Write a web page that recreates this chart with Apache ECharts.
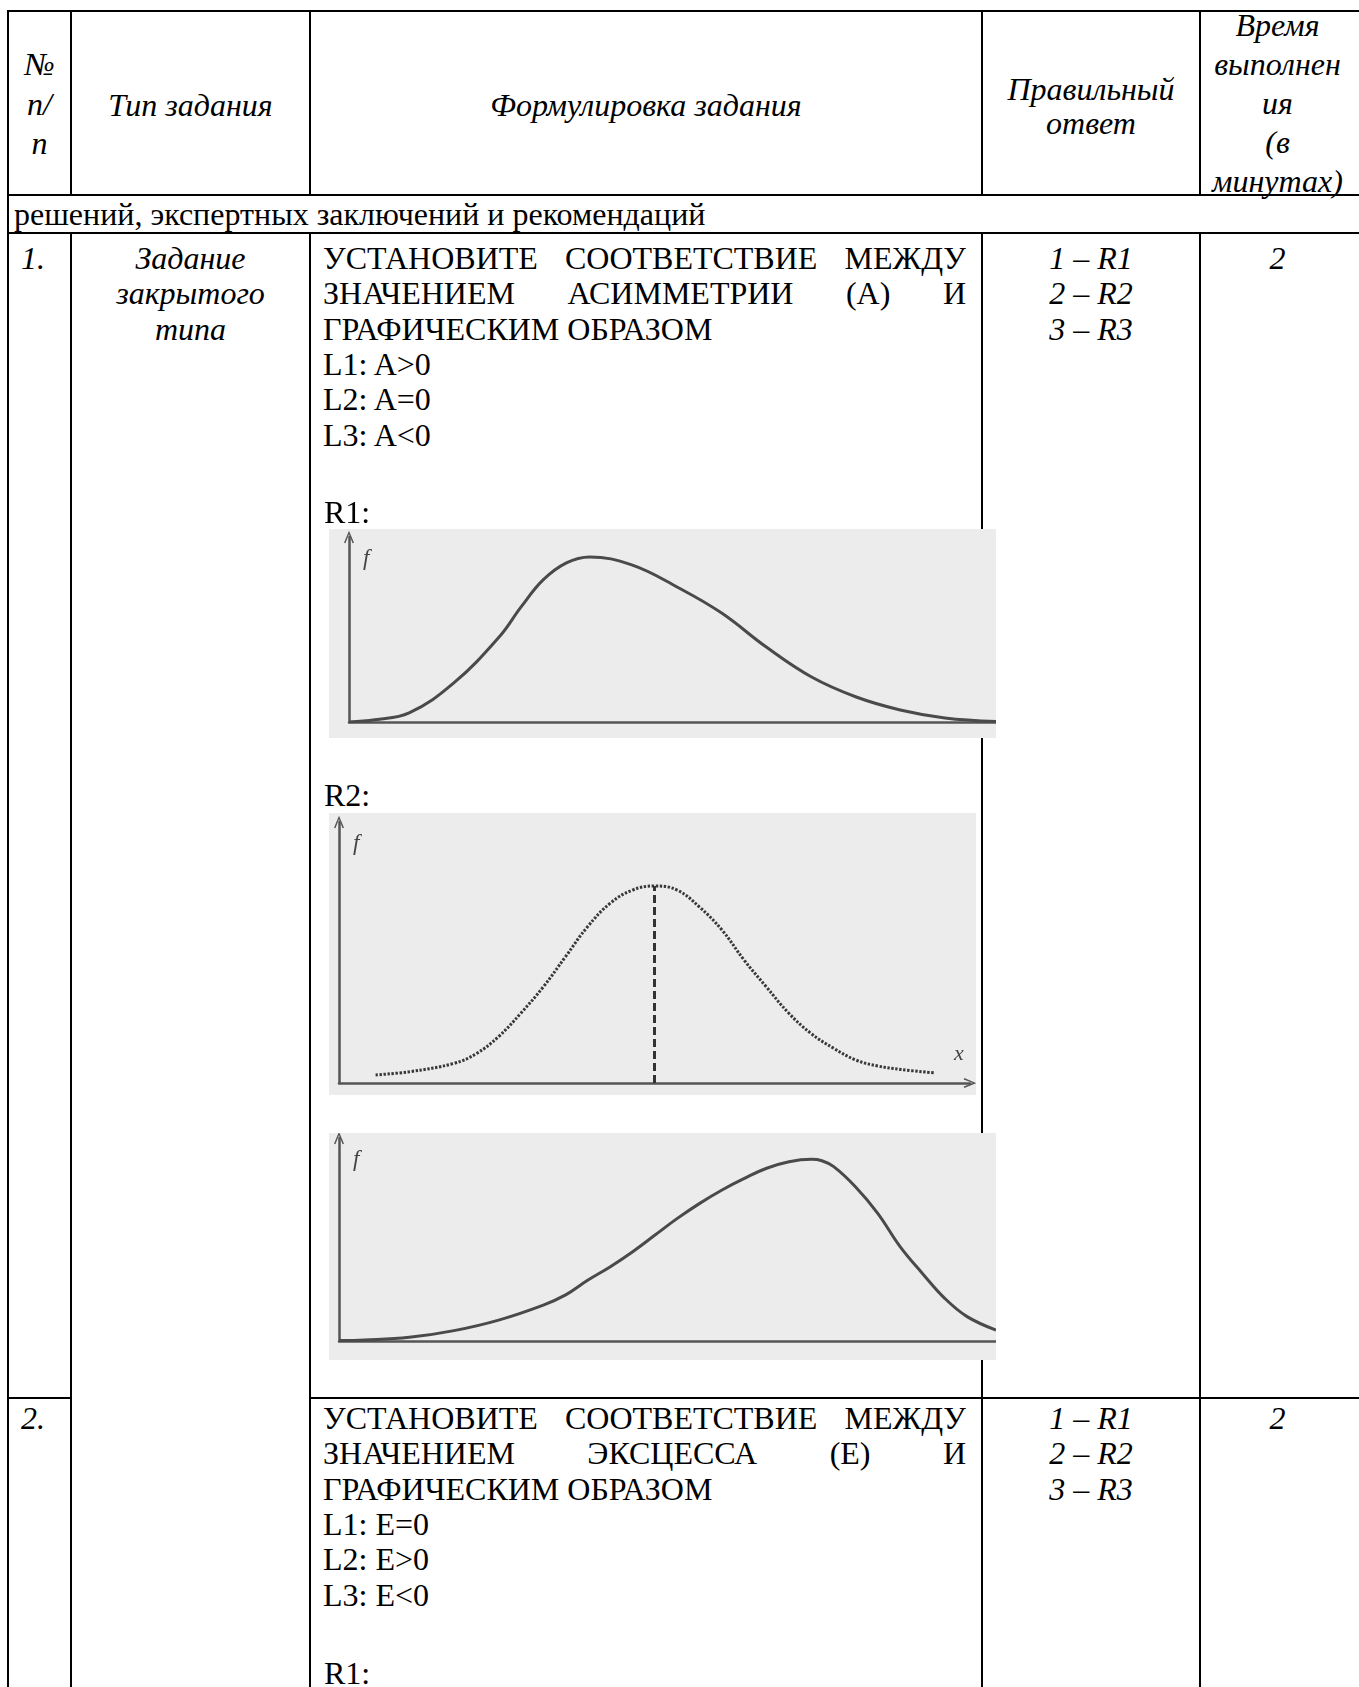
<!DOCTYPE html>
<html><head><meta charset="utf-8">
<script src="https://cdn.jsdelivr.net/npm/echarts@6/dist/echarts.min.js"></script>
<style>
html,body{margin:0;padding:0;background:#fff;}
#page{position:relative;width:1359px;height:1687px;overflow:hidden;background:#fff;}
.ln{position:absolute;background:#000;z-index:1}
.t{position:absolute;white-space:nowrap;font-family:"Liberation Serif","Times New Roman",serif;font-size:32px;line-height:36px;height:36px;color:#000;z-index:3}
.i{font-style:italic}
.c{text-align:center}
.j{text-align:justify;text-align-last:justify;white-space:normal;overflow:hidden}
.pic{position:absolute;background:#ececec;z-index:2}
</style></head><body><div id="page"></div>
<script>
// ---- data ----
// R1: right-skewed curve (A>0)
var r1X = [0, 4.0, 9.3, 16.2, 23.2, 26.6, 30.0, 33.6, 37.2, 43.7, 50.7, 57.6, 64.5, 71.5, 78.4, 85.2, 92.1, 100];
var r1Y = [0, 1.2, 4.9, 21.1, 45.9, 62.2, 76.8, 86.0, 89.2, 84.9, 73.0, 58.9, 40.5, 24.3, 13.5, 6.5, 2.2, 0.3];
// R2: symmetric curve (A=0), dotted, with mean line
var r2X = [5.8, 11.1, 18.2, 21.8, 25.3, 28.8, 32.4, 35.9, 39.4, 43.0, 46.5, 50.0, 53.6, 57.1, 60.7, 64.2, 67.7, 71.3, 74.8, 78.4, 81.9, 85.4, 89.0, 94.3];
var r2Y = [3.1, 4.3, 7.5, 11.3, 17.8, 26.7, 36.9, 48.4, 59.9, 68.9, 73.9, 75.5, 73.9, 67.5, 58.6, 47.1, 36.9, 26.7, 19.0, 13.3, 8.8, 6.5, 5.2, 3.9];
var r2Mean = [50.0, 75.5];
// R3: left-skewed curve (A<0)
var r3X = [0, 3.9, 10.7, 17.5, 24.3, 31.1, 34.5, 37.9, 41.3, 44.7, 48.1, 51.5, 54.9, 58.3, 61.7, 65.1, 68.5, 71.9, 73.5, 75.3, 78.6, 82.0, 85.4, 88.8, 92.2, 95.6, 100];
var r3Y = [0.2, 0.5, 1.8, 5.1, 10.3, 17.7, 22.7, 30.0, 36.6, 44.0, 52.2, 60.4, 67.8, 74.4, 80.1, 85.1, 88.3, 89.5, 88.8, 85.9, 76.0, 62.9, 46.5, 33.3, 21.0, 12.0, 5.4];

// ---- table texts ----
var headNo = ["№", "п/", "п"];
var headType = ["Тип задания"];
var headForm = ["Формулировка задания"];
var headAns = ["Правильный", "ответ"];
var headTime = ["Время", "выполнен", "ия", "(в", "минутах)"];
var sectionText = "решений, экспертных заключений и рекомендаций";
var taskType = ["Задание", "закрытого", "типа"];
var task1 = ["УСТАНОВИТЕ СООТВЕТСТВИЕ МЕЖДУ", "ЗНАЧЕНИЕМ АСИММЕТРИИ (А) И", "ГРАФИЧЕСКИМ ОБРАЗОМ", "L1: A>0", "L2: A=0", "L3: A<0"];
var task2 = ["УСТАНОВИТЕ СООТВЕТСТВИЕ МЕЖДУ", "ЗНАЧЕНИЕМ ЭКСЦЕССА (Е) И", "ГРАФИЧЕСКИМ ОБРАЗОМ", "L1: E=0", "L2: E>0", "L3: E<0"];
var answers = ["1 – R1", "2 – R2", "3 – R3"];

var page = document.getElementById('page');
var C = [8, 71, 310, 982, 1200, 1362];
function H(x1, x2, y) { var d = document.createElement('div'); d.className = 'ln'; d.style.cssText = 'left:' + (x1 - 1) + 'px;width:' + (x2 - x1 + 2) + 'px;top:' + (y - 1) + 'px;height:2px'; page.appendChild(d); }
function V(x, y1, y2) { var d = document.createElement('div'); d.className = 'ln'; d.style.cssText = 'left:' + (x - 1) + 'px;width:2px;top:' + (y1 - 1) + 'px;height:' + (y2 - y1 + 2) + 'px'; page.appendChild(d); }
function T(txt, left, width, cy, cls) {
  var d = document.createElement('div'); d.className = 't ' + (cls || '');
  d.textContent = txt;
  d.style.left = left + 'px'; d.style.top = (cy - 18) + 'px';
  if (width) d.style.width = width + 'px';
  page.appendChild(d);
}
// borders
H(C[0], C[5], 11); H(C[0], C[5], 195); H(C[0], C[5], 233);
H(C[0], C[1], 1398); H(C[2], C[5], 1398);
for (var k = 0; k < C.length; k++) {
  if (k === 0) { V(C[k], 11, 1688); continue; }
  V(C[k], 11, 195); V(C[k], 233, 1688);
}
// header
[64, 104, 143].forEach(function (y, i) { T(headNo[i], C[0], C[1] - C[0], y, 'i c'); });
T(headType[0], C[1], C[2] - C[1], 105, 'i c');
T(headForm[0], C[2], C[3] - C[2], 105, 'i c');
[89, 123].forEach(function (y, i) { T(headAns[i], C[3], C[4] - C[3], y, 'i c'); });
[25, 64, 103, 142, 181].forEach(function (y, i) { T(headTime[i], C[4], 1359 - C[4] - 4, y, 'i c'); });
T(sectionText, 14, null, 214, '');
// rows
var rowY1 = 258, step = 35.3, rowY2 = 1418;
T("1.", 21, null, rowY1, 'i');
T("2.", 21, null, rowY2, 'i');
taskType.forEach(function (s, i) { T(s, C[1], C[2] - C[1], rowY1 + i * step, 'i c'); });
function task(lines, y0) {
  lines.forEach(function (s, i) {
    T(s, 323, i < 2 ? 643 : null, y0 + i * step, i < 2 ? 'j' : '');
  });
}
task(task1, rowY1); task(task2, rowY2);
answers.forEach(function (s, i) { T(s, C[3], C[4] - C[3], rowY1 + i * step, 'i c'); T(s, C[3], C[4] - C[3], rowY2 + i * step, 'i c'); });
T("2", C[4], 1359 - C[4] - 4, rowY1, 'i c');
T("2", C[4], 1359 - C[4] - 4, rowY2, 'i c');
T("R1:", 324, null, 512, '');
T("R2:", 324, null, 795, '');
T("R1:", 324, null, 1673, '');

// ---- charts ----
var arrowPath = 'path://M0,12 L5,0 L10,12 L8.6,12.6 L5,3.6 L1.4,12.6 Z';
function pairs(xs, ys) { return xs.map(function (x, i) { return [x, ys[i]]; }); }
function makeChart(box, grid, series, xArrow, xName) {
  var d = document.createElement('div'); d.className = 'pic';
  d.style.cssText = 'left:' + box[0] + 'px;top:' + box[1] + 'px;width:' + box[2] + 'px;height:' + box[3] + 'px';
  page.appendChild(d);
  var ch = echarts.init(d, null, { renderer: 'canvas' });
  var axisLine = function (arrow) {
    return { show: true, onZero: false, symbol: ['none', arrow ? arrowPath : 'none'], symbolSize: [10, 13],
      lineStyle: { color: '#555', width: 2.5 } };
  };
  ch.setOption({
    animation: false,
    grid: grid,
    xAxis: { type: 'value', min: 0, max: 100, axisLine: axisLine(xArrow), axisTick: { show: false }, axisLabel: { show: false }, splitLine: { show: false },
      name: xName || '', nameLocation: 'end', nameGap: -16,
      nameTextStyle: { fontFamily: 'Liberation Serif', fontStyle: 'italic', fontSize: 22, color: '#444', verticalAlign: 'bottom', padding: [0, 0, 18, 0] } },
    yAxis: { type: 'value', min: 0, max: 100, axisLine: axisLine(true), axisTick: { show: false }, axisLabel: { show: false }, splitLine: { show: false },
      name: 'f', nameLocation: 'end', nameGap: -22,
      nameTextStyle: { fontFamily: 'Liberation Serif', fontStyle: 'italic', fontSize: 23, color: '#444', align: 'left', verticalAlign: 'middle', padding: [0, 0, 0, 14] } },
    series: series
  });
}
makeChart([329, 529, 667, 209], { left: 20, top: 8, right: 0, bottom: 16 },
  [{ type: 'line', data: pairs(r1X, r1Y), smooth: 0.4, showSymbol: false, lineStyle: { color: '#4a4a4a', width: 3 } }], false);
makeChart([329, 813, 647, 282], { left: 10, top: 9, right: 6, bottom: 12 },
  [{ type: 'line', data: pairs(r2X, r2Y), smooth: 0.4, showSymbol: false, lineStyle: { color: '#383838', width: 3, type: [2.4, 1.6] } },
   { type: 'line', data: [[r2Mean[0], 0], [r2Mean[0], r2Mean[1]]], showSymbol: false, lineStyle: { color: '#333', width: 3, type: [8, 4] } }], true, 'x');
makeChart([329, 1133, 667, 227], { left: 10, top: 5, right: 0, bottom: 19 },
  [{ type: 'line', data: pairs(r3X, r3Y), smooth: 0.4, showSymbol: false, lineStyle: { color: '#4a4a4a', width: 3 } }], false);
</script>
</body></html>
